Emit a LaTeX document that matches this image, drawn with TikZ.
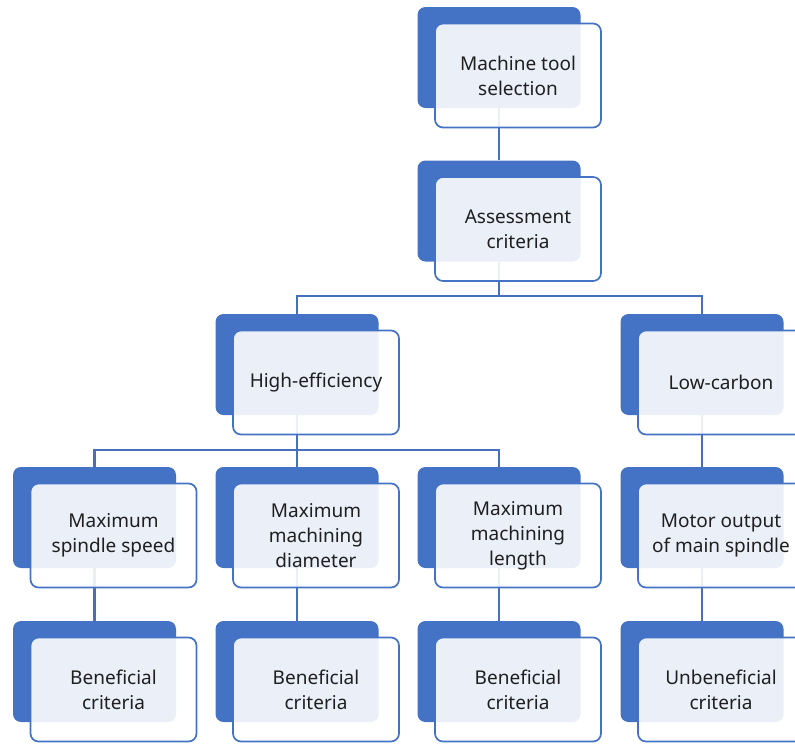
\documentclass[tikz,border=0pt]{standalone}
\usepackage{fontspec}
\setmainfont{Noto Sans}
\usetikzlibrary{backgrounds}
\definecolor{boxblue}{HTML}{4472C4}
\definecolor{lineblue}{HTML}{4570BE}

\begin{document}
\begin{tikzpicture}[x=1pt, y=-1pt,
	back/.style={rectangle, rounded corners=8pt, fill=boxblue, minimum width=163pt, minimum height=101pt, inner sep=0pt},
	front/.style={rectangle, rounded corners=8pt, draw=boxblue, line width=1.7pt, fill=white, fill opacity=0.89, text opacity=1, minimum width=166pt, minimum height=104pt, inner sep=2pt, align=center, text=black!88, font=\fontsize{19}{25}\selectfont},
	link/.style={draw=lineblue, line width=2.2pt}]
	\useasboundingbox (0,0) rectangle (795,744);
	
	% Back plates {selB, assB, hiB, loB, ...}
	\node [back] (selB) at (499,57.5)  {};
	\node [back] (assB) at (499,211)   {};
	\node [back] (hiB)  at (297,364.5) {};
	\node [back] (loB)  at (702,364.5) {};
	\node [back] (spdB) at (94.5,517.5) {};
	\node [back] (diaB) at (297,517.5) {};
	\node [back] (lenB) at (499,517.5) {};
	\node [back] (motB) at (702,517.5) {};
	\node [back] (b1B)  at (94.5,671.5) {};
	\node [back] (b2B)  at (297,671.5) {};
	\node [back] (b3B)  at (499,671.5) {};
	\node [back] (u1B)  at (702,671.5) {};
	
	% Front cards
	\node [front] (sel) at ([shift={(19,18)}]selB) {Machine tool\\selection};
	\node [front] (ass) at ([shift={(19,18)}]assB) {Assessment\\criteria};
	\node [front] (hi)  at ([shift={(19,18)}]hiB)  {High-efficiency};
	\node [front] (lo)  at ([shift={(19,18)}]loB)  {Low-carbon};
	\node [front] (spd) at ([shift={(19,18)}]spdB) {Maximum\\spindle speed};
	\node [front] (dia) at ([shift={(19,18)}]diaB) {Maximum\\machining\\diameter};
	\node [front] (len) at ([shift={(19,18)}]lenB) {Maximum\\machining\\length};
	\node [front] (mot) at ([shift={(19,18)}]motB) {Motor output\\of main spindle};
	\node [front] (b1)  at ([shift={(19,18)}]b1B)  {Beneficial\\criteria};
	\node [front] (b2)  at ([shift={(19,18)}]b2B)  {Beneficial\\criteria};
	\node [front] (b3)  at ([shift={(19,18)}]b3B)  {Beneficial\\criteria};
	\node [front] (u1)  at ([shift={(19,18)}]u1B)  {Unbeneficial\\criteria};
	
	% Connectors
	\begin{scope}[on background layer]
		\path [link] (selB.south) -- (assB.north);
		\path [link] (assB.south) -- ++(0,34) coordinate (bus1);
		\path [link] (bus1) -| (hiB.north);
		\path [link] (bus1) -| (loB.north);
		\path [link] (hiB.south) -- ++(0,35) coordinate (bus2);
		\path [link] (bus2) -| (spdB.north);
		\path [link] (bus2) -| (diaB.north);
		\path [link] (bus2) -| (lenB.north);
		\path [link] (loB.south) -- (motB.north);
		\path [link] (spdB.south) -- (b1B.north);
		\path [link] (diaB.south) -- (b2B.north);
		\path [link] (lenB.south) -- (b3B.north);
		\path [link] (motB.south) -- (u1B.north);
	\end{scope}
\end{tikzpicture}
\end{document}
